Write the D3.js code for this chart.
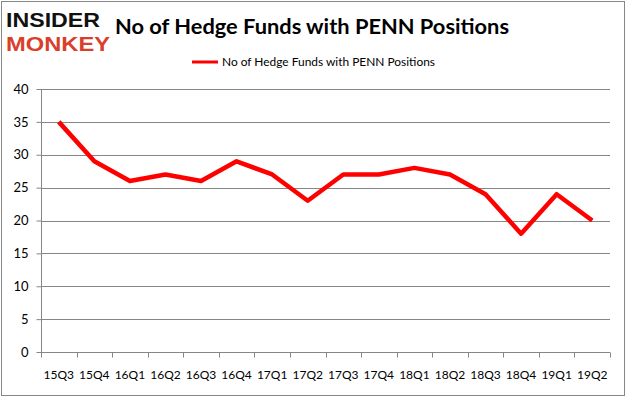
<!DOCTYPE html>
<html>
<head>
<meta charset="utf-8">
<script src="https://cdn.jsdelivr.net/npm/d3@7"></script>
<style>
  body { margin: 0; background: #fff; }
  svg { display: block; }
</style>
</head>
<body>
<div id="chart"></div>
<script>
// DATA
const quarters = ["15Q3", "15Q4", "16Q1", "16Q2", "16Q3", "16Q4", "17Q1", "17Q2",
                  "17Q3", "17Q4", "18Q1", "18Q2", "18Q3", "18Q4", "19Q1", "19Q2"];
const hedgeFunds = [35, 29, 26, 27, 26, 29, 27, 23, 27, 27, 28, 27, 24, 18, 24, 20];
const yTicks = [0, 5, 10, 15, 20, 25, 30, 35, 40];
const seriesName = "No of Hedge Funds with PENN Positions";

// LAYOUT
const width = 626, height = 397;
const plot = {left: 41, right: 610, top: 89, bottom: 352};
const font = "Lato, 'Open Sans', sans-serif";

const svg = d3.select("#chart").append("svg")
    .attr("width", width)
    .attr("height", height);

// outer frame
svg.append("rect")
    .attr("x", 1.5).attr("y", 1.5)
    .attr("width", width - 3).attr("height", height - 3)
    .attr("fill", "#fff")
    .attr("stroke", "#878787");

// Logo
svg.append("text")
    .attr("x", 6).attr("y", 27)
    .attr("font-family", "'Liberation Sans', sans-serif")
    .attr("font-weight", "bold")
    .attr("font-size", 21)
    .attr("textLength", 94).attr("lengthAdjust", "spacingAndGlyphs")
    .attr("fill", "#111")
    .text("INSIDER");
svg.append("text")
    .attr("x", 6).attr("y", 51)
    .attr("font-family", "'Liberation Sans', sans-serif")
    .attr("font-weight", "bold")
    .attr("font-size", 21)
    .attr("textLength", 104).attr("lengthAdjust", "spacingAndGlyphs")
    .attr("fill", "#d9402b")
    .text("MONKEY");

// Title
svg.append("text")
    .attr("x", 115).attr("y", 34)
    .attr("font-family", font)
    .attr("font-weight", "bold")
    .attr("font-size", 21)
    .attr("textLength", 394).attr("lengthAdjust", "spacingAndGlyphs")
    .attr("fill", "#000")
    .text(seriesName);

// Legend
svg.append("line")
    .attr("x1", 192).attr("x2", 218)
    .attr("y1", 62).attr("y2", 62)
    .attr("stroke", "#ff0000").attr("stroke-width", 3);
svg.append("text")
    .attr("x", 222).attr("y", 66)
    .attr("font-family", font)
    .attr("font-size", 12)
    .attr("textLength", 213).attr("lengthAdjust", "spacingAndGlyphs")
    .attr("fill", "#000")
    .text(seriesName);

// SCALES
const x = d3.scaleBand().domain(quarters).range([plot.left, plot.right]);
const y = d3.scaleLinear().domain([0, 40]).range([plot.bottom, plot.top]);

// Gridlines
svg.append("g")
    .selectAll("line")
    .data(yTicks.filter(d => d > 0))
    .enter().append("line")
    .attr("x1", plot.left).attr("x2", plot.right)
    .attr("y1", d => Math.round(y(d)) + 0.5)
    .attr("y2", d => Math.round(y(d)) + 0.5)
    .attr("stroke", "#868686");

// Y axis
const yAxis = svg.append("g")
    .attr("transform", `translate(${plot.left + 0.5},0)`)
    .call(d3.axisLeft(y).tickValues(yTicks).tickSize(5).tickPadding(8));
yAxis.select(".domain").attr("stroke", "#868686")
    .attr("d", `M0,${plot.top}V${plot.bottom}`);
yAxis.selectAll(".tick line").attr("stroke", "#868686");
yAxis.selectAll(".tick text")
    .attr("font-family", font)
    .attr("font-size", 13)
    .attr("fill", "#000");

// X axis with ticks at category boundaries
const xg = svg.append("g")
    .attr("transform", `translate(0,${Math.round(plot.bottom) + 0.5})`);
xg.append("line")
    .attr("x1", plot.left).attr("x2", plot.right)
    .attr("stroke", "#868686");
const bounds = quarters.map(q => x(q)).concat([plot.right]);
xg.selectAll(".bt")
    .data(bounds)
    .enter().append("line")
    .attr("x1", d => Math.round(d) + 0.5).attr("x2", d => Math.round(d) + 0.5)
    .attr("y1", 0).attr("y2", 5)
    .attr("stroke", "#868686");
xg.selectAll("text")
    .data(quarters)
    .enter().append("text")
    .attr("x", d => x(d) + x.bandwidth() / 2)
    .attr("y", 26)
    .attr("text-anchor", "middle")
    .attr("font-family", font)
    .attr("font-size", 12)
    .attr("fill", "#000")
    .text(d => d);

// Series line
const line = d3.line()
    .x((d, i) => x(quarters[i]) + x.bandwidth() / 2)
    .y(d => y(d));
svg.append("path")
    .datum(hedgeFunds)
    .attr("d", line)
    .attr("fill", "none")
    .attr("stroke", "#ff0000")
    .attr("stroke-width", 4.5)
    .attr("stroke-linejoin", "round");
</script>
</body>
</html>
